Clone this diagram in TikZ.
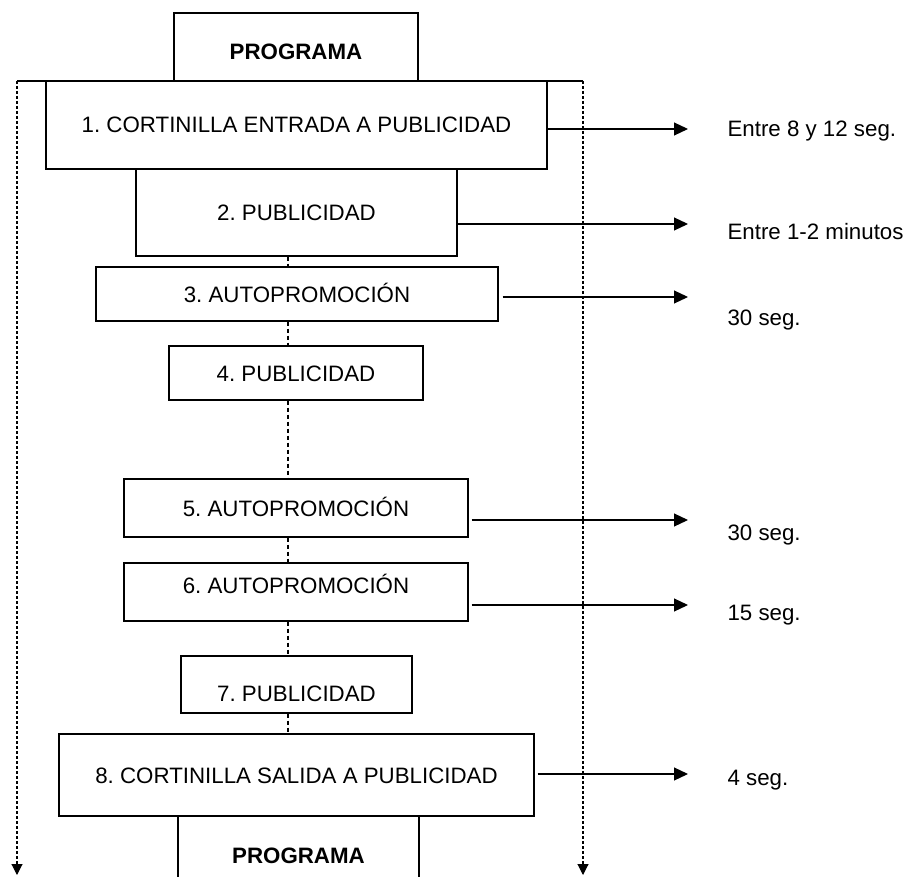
\documentclass[tikz,border=0pt]{standalone}
\usepackage{fontspec}
\setmainfont{Liberation Sans}
\usetikzlibrary{arrows.meta}
\frenchspacing
\tikzset{caja/.style={draw=black, line width=1.2pt, inner sep=0pt, text height=16pt, text depth=0pt},
  flecha/.style={line width=1.1pt, -{Triangle[length=14pt, width=13pt]}},
  guia/.style={line width=1.1pt, dash pattern=on 4pt off 3pt},
  lado/.style={line width=1.1pt, dash pattern=on 3pt off 2pt, -{Triangle[length=11pt, width=11pt]}},
  tiempo/.style={anchor=base west}}

\begin{document}
\begin{tikzpicture}[x=1pt, y=-1pt, every node/.style={font=\fontsize{22.3}{26}\selectfont}]
\useasboundingbox (0,0) rectangle (907,877);
% bloques
\node[caja, minimum width=244pt, minimum height=68pt, text height=26pt, font=\fontsize{22.3}{26}\selectfont\bfseries] (prog1) at (296,47) {PROGRAMA};
\node[caja, minimum width=501pt, minimum height=88pt] (c1) at (296.5,125) {1. CORTINILLA ENTRADA A PUBLICIDAD};
\node[caja, minimum width=321pt, minimum height=87pt] (c2) at (296.5,212.5) {2. PUBLICIDAD};
\node[caja, minimum width=402pt, minimum height=54pt] (c3) at (297,294) {3. AUTOPROMOCIÓN};
\node[caja, minimum width=254pt, minimum height=54pt] (c4) at (296,373) {4. PUBLICIDAD};
\node[caja, minimum width=344pt, minimum height=58pt] (c5) at (296,508) {5. AUTOPROMOCIÓN};
\node[caja, minimum width=344pt, minimum height=58pt, text depth=14pt] (c6) at (296,592) {6. AUTOPROMOCIÓN};
\node[caja, minimum width=231pt, minimum height=57pt, text height=33pt] (c7) at (296.5,684.5) {7. PUBLICIDAD};
\node[caja, minimum width=475pt, minimum height=82pt] (c8) at (296.5,775) {8. CORTINILLA SALIDA A PUBLICIDAD};
\node[caja, minimum width=241pt, minimum height=78pt, font=\fontsize{22.3}{26}\selectfont\bfseries] (prog2) at (298.5,855) {PROGRAMA};
% linea central
\coordinate (eje) at (288,0);
\foreach \a/\b in {c2/c3,c3/c4,c4/c5,c5/c6,c6/c7,c7/c8}
  \draw[guia] (\a.south -| eje) -- (\b.north -| eje);
% lados
\coordinate (izq) at (17,81);
\coordinate (der) at (583,81);
\coordinate (izqf) at (17,875);
\coordinate (derf) at (583,875);
\draw[line width=1.1pt] (izq) -- (der);
\draw[lado] (izq) -- (izqf);
\draw[lado] (der) -- (derf);
% duraciones
\coordinate (t1) at (688,129);
\coordinate (t2) at (688,224);
\coordinate (t3) at (688,297);
\coordinate (t5) at (688,520);
\coordinate (t6) at (688,605);
\coordinate (t8) at (688,774);
\draw[flecha] (c1.east |- t1) -- (t1);
\draw[flecha] (c2.east |- t2) -- (t2);
\draw[flecha] ([xshift=4pt]c3.east |- t3) -- (t3);
\draw[flecha] ([xshift=3pt]c5.east |- t5) -- (t5);
\draw[flecha] ([xshift=3pt]c6.east |- t6) -- (t6);
\draw[flecha] ([xshift=3pt]c8.east |- t8) -- (t8);
\node[tiempo] (l1) at (724,137) {Entre 8 y 12 seg.};
\node[tiempo] (l2) at (724,240) {Entre 1-2 minutos};
\node[tiempo] (l3) at (724,325) {30 seg.};
\node[tiempo] (l5) at (724,540) {30 seg.};
\node[tiempo] (l6) at (724,620) {15 seg.};
\node[tiempo] (l8) at (724,785) {4 seg.};
\end{tikzpicture}
\end{document}
